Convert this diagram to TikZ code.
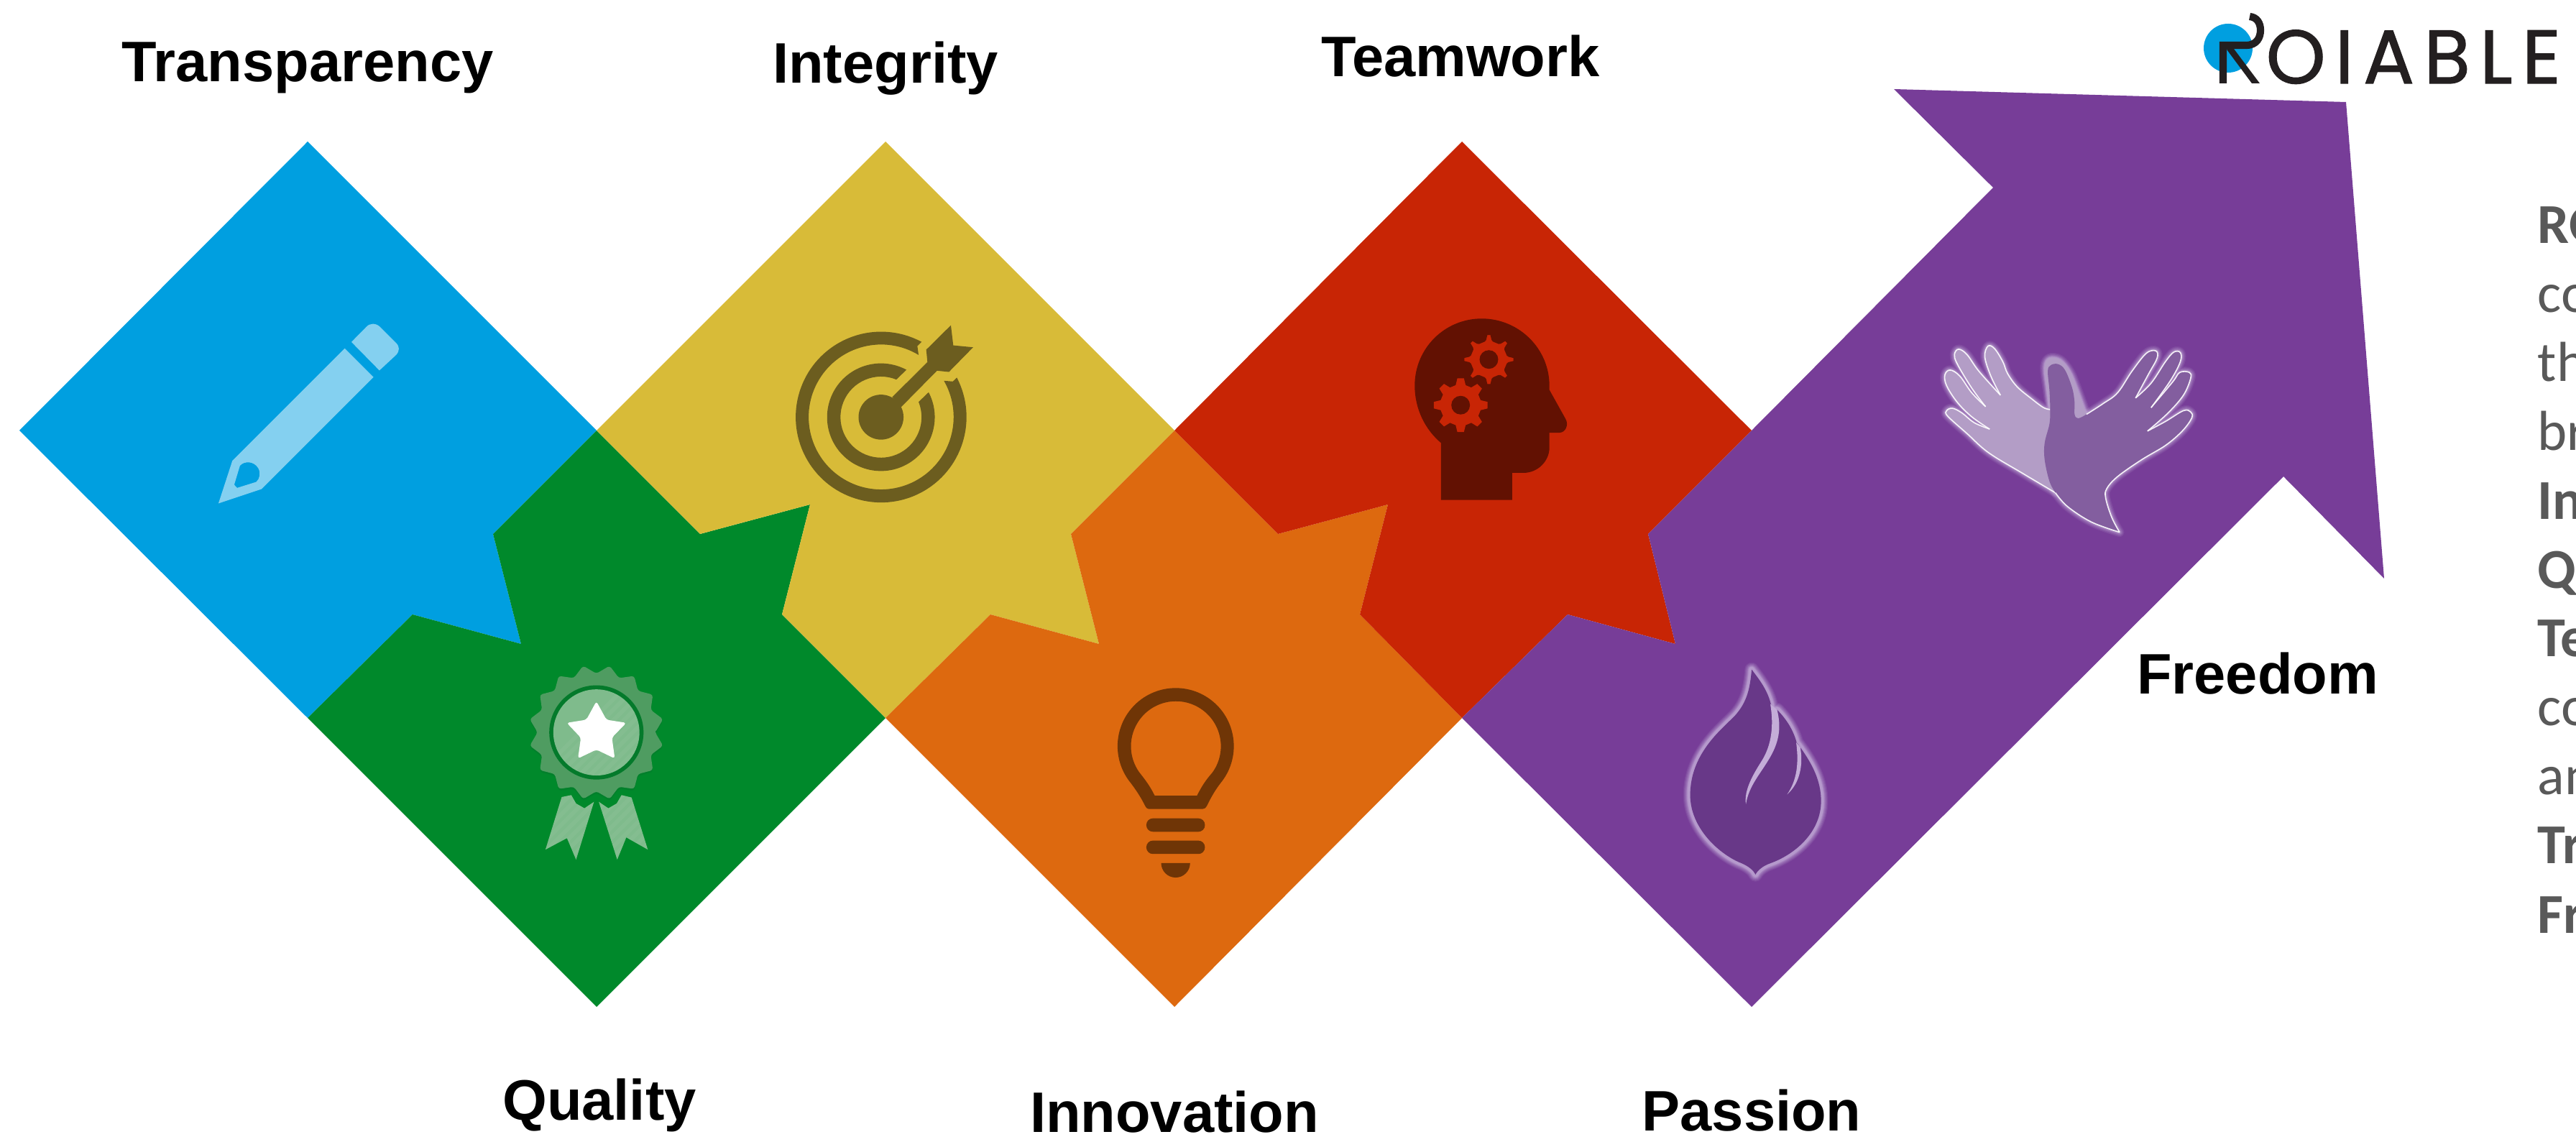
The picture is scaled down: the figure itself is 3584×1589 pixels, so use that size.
\documentclass[tikz,border=0pt]{standalone}
\usepackage{fontspec}
\setmainfont{Liberation Sans}
\newfontfamily\bodyfont{Carlito}
\newfontfamily\logofont[FakeBold=1.2,LetterSpace=12.5]{Poppins}
\definecolor{cblue}{HTML}{009FE0}
\definecolor{cgreen}{HTML}{00892B}
\definecolor{cyellow}{HTML}{D8BB38}
\definecolor{corange}{HTML}{DD690F}
\definecolor{cred}{HTML}{C82505}
\definecolor{cpurple}{HTML}{773D98}
\definecolor{ipencil}{HTML}{84D0F0}
\definecolor{itarget}{HTML}{6C5D1F}
\definecolor{ibulb}{HTML}{6F3506}
\definecolor{ihead}{HTML}{621102}
\definecolor{irose}{HTML}{4F9C61}
\definecolor{iribbon}{HTML}{7FBB8C}
\definecolor{iring}{HTML}{047A2B}
\definecolor{iflame}{HTML}{683888}
\definecolor{iglow}{HTML}{C4ADD8}
\definecolor{handlight}{HTML}{B39DC6}
\definecolor{handdark}{HTML}{835E9F}
\definecolor{bodygrey}{HTML}{595959}
\definecolor{logoink}{HTML}{231F20}
\tikzset{
  label text/.style={font=\fontsize{22.6}{26}\selectfont\bfseries,text=black,inner sep=0pt},
  body text/.style={font=\fontsize{22.3}{26}\bodyfont,text=bodygrey,anchor=base west,inner sep=0pt},
  icon/.style={x=0.0033333cm,y=-0.0033333cm},
  hand line/.style={white,line width=.45pt,opacity=.9}
}
\newcommand\glowflame[2]{\foreach \w/\o in {5.6/.1,5.0/.12,4.4/.14,3.8/.17,3.2/.22,2.7/.3,2.2/.45}{\draw[#1,line width=\w pt,opacity=\o,line join=round] #2;}}
\newcommand\glowhand[2]{\foreach \w/\o in {3.8/.1,3.1/.12,2.4/.15,1.8/.2,1.2/.28,0.7/.4}{\draw[#1,line width=\w pt,opacity=\o,line join=round] #2;}}
\newcommand\gearshape[4]{\fill[#3,#4] ([shift={(#1,#2)}]-14:86)
  \foreach \a in {0,45,...,315}{ -- ([shift={(#1,#2)}]\a-14:86) -- ([shift={(#1,#2)}]\a-7:113) -- ([shift={(#1,#2)}]\a+7:113) -- ([shift={(#1,#2)}]\a+14:86)} -- cycle;
  \fill[ihead] (#1,#2) circle[radius=39];}
\newcommand\stripes{\foreach \k in {0,44,...,1400}{\draw[white,line width=1.6pt,opacity=.045] (\k-200,1000) -- (\k+800,0);}}
\begin{document}
\begin{tikzpicture}[x=0.01cm,y=-0.01cm]
\useasboundingbox (0,0) rectangle (3584,1589);
\clip (0,0) rectangle (3584,1589);
\fill[white] (0,0) rectangle (3584,1589);
% chevrons
\fill[cblue] (428,197)--(830,599)--(686,743)--(725,896)--(574,855)--(428,999)--(27,599)--cycle;
\fill[cgreen] (830,599)--(974,743)--(1127,702)--(1088,855)--(1232,999)--(830,1401)--(428,999)--(574,855)--(725,896)--(686,743)--cycle;
\fill[cyellow] (1232,197)--(1634,599)--(1490,743)--(1529,896)--(1378,855)--(1232,999)--(1088,855)--(1127,702)--(974,743)--(830,599)--cycle;
\fill[corange] (1634,599)--(1778,743)--(1931,702)--(1892,855)--(2034,999)--(1634,1401)--(1232,999)--(1378,855)--(1529,896)--(1490,743)--cycle;
\fill[cred] (2034,197)--(2437,599)--(2293,743)--(2331,896)--(2181,855)--(2034,999)--(1892,855)--(1931,702)--(1778,743)--(1634,599)--cycle;
\fill[cpurple] (2437,599)--(2773,261)--(2635,124)--(3264,142)--(3317,805)--(3177,663)--(2437,1401)--(2034,999)--(2181,855)--(2331,896)--(2293,743)--cycle;
% pencil
\begin{scope}[shift={(250,400)},icon]
\fill[ipencil,even odd rule] (690,255)--(810,375)--(342,843)--(162,903)--(220,725)--cycle
  (252,745) .. controls (270,725) and (310,725) .. (328,755) .. controls (340,775) and (335,800) .. (320,813) -- (240,838) -- (228,825) -- cycle;
\fill[ipencil] (718,228)--(780,165) .. controls (795,148) and (820,148) .. (838,165) -- (905,232) .. controls (920,248) and (920,265) .. (905,282) -- (835,347) -- cycle;
\end{scope}
% target
\begin{scope}[shift={(1080,420)},icon]
\fill[itarget] (755,317) arc[start angle=-27.5,end angle=298.3,radius=357] -- (590,185) -- (595,222)
  arc[start angle=301.1,end angle=-30,radius=303] -- (738,333) -- cycle;
\fill[itarget] (637,378) arc[start angle=-27.6,end angle=298.3,radius=225] -- (502,325)
  arc[start angle=292.2,end angle=-22,radius=169.5] -- cycle;
\fill[itarget] (438,482) circle[radius=94];
\fill[itarget] (485,398)--(632,252)--(627,200)--(730,98)--(740,182)--(823,190)--(722,293)--(672,288)--(522,440)--cycle;
\end{scope}
% ribbon
\begin{scope}[shift={(680,880)},icon]
\begin{scope}
\clip (345,680)--(365,715)--(400,735)--(440,708)--(365,950)--(327,860)--(237,908)--(305,688)--cycle
      (555,680)--(535,715)--(500,735)--(460,708)--(537,950)--(575,857)--(665,908)--(597,690)--cycle;
\fill[iribbon] (200,650) rectangle (700,960);
\stripes
\end{scope}
\fill[iring,opacity=.55,rounded corners=1pt,shift={(0,8)}] ([shift={(450,418)}]0:246)
  \foreach \a in {11.25,33.75,...,348.75}{ -- ([shift={(450,418)}]\a:284) -- ([shift={(450,418)}]\a+11.25:246)} -- cycle;
\fill[irose,rounded corners=1pt] ([shift={(450,418)}]0:246)
  \foreach \a in {11.25,33.75,...,348.75}{ -- ([shift={(450,418)}]\a:284) -- ([shift={(450,418)}]\a+11.25:246)} -- cycle;
\fill[iring] (450,418) circle[radius=197];
\begin{scope}
\clip (450,418) circle[radius=180];
\fill[iribbon] (260,230) rectangle (640,610);
\stripes
\end{scope}
\fill[white,rounded corners=1pt] (450,288)--(492,365)--(575,378)--(515,440)--(527,527)--(450,490)--(373,527)--(385,440)--(326,378)--(408,365)--cycle;
\end{scope}
% bulb
\begin{scope}[shift={(1520,930)},icon]
\fill[ibulb,even odd rule] (235,588) -- (460,588) .. controls (470,588) and (474,582) .. (478,575)
  .. controls (495,540) and (512,510) .. (535,480) arc[start angle=39.6,end angle=-219.6,radius=243]
  .. controls (183,510) and (203,540) .. (220,575) .. controls (224,582) and (228,588) .. (235,588) -- cycle
  (260,532) -- (437,532) .. controls (455,495) and (475,465) .. (500,437) arc[start angle=36.4,end angle=-216.4,radius=188]
  .. controls (220,465) and (242,495) .. (260,532) -- cycle;
\fill[ibulb,rounded corners=2.6pt] (225,627) rectangle (470,683);
\fill[ibulb,rounded corners=2.6pt] (225,720) rectangle (470,776);
\fill[ibulb] (287,814) -- (408,814) arc[start angle=0,end angle=180,radius=60.5] -- cycle;
\end{scope}
% head
\begin{scope}[shift={(1940,420)},icon]
\fill[ihead] (195,828)--(492,828)--(492,715)--(540,715) .. controls (600,715) and (648,665) .. (648,610)
  --(648,547)--(690,547) .. controls (715,547) and (730,515) .. (716,490) --(648,368)--(648,350)
  .. controls (648,195) and (520,70) .. (365,70) .. controls (210,70) and (85,195) .. (85,350)
  .. controls (85,450) and (130,535) .. (195,590) -- cycle;
\gearshape{277}{432}{cred}{}
\begin{scope}
\draw[ihead,line width=1.8pt,fill=cred,line join=round] ([shift={(395,241)}]-14:86)
  \foreach \a in {0,45,...,315}{ -- ([shift={(395,241)}]\a-14:86) -- ([shift={(395,241)}]\a-7:113) -- ([shift={(395,241)}]\a+7:113) -- ([shift={(395,241)}]\a+14:86)} -- cycle;
\fill[ihead] (395,241) circle[radius=39];
\end{scope}
\end{scope}
% flame
\begin{scope}[shift={(2300,900)},icon]
\def\flamepath{(412,95) .. controls (405,170) and (395,230) .. (340,290)
  .. controls (280,350) and (155,450) .. (155,620)
  .. controls (155,760) and (280,870) .. (370,905)
  .. controls (400,918) and (420,935) .. (428,952)
  .. controls (436,935) and (460,915) .. (490,905)
  .. controls (600,865) and (702,770) .. (702,645)
  .. controls (702,560) and (665,490) .. (615,420)
  -- (600,400) .. controls (585,345) and (555,300) .. (518,263) -- (497,262)
  .. controls (485,190) and (450,145) .. cycle}
\glowflame{iglow}{\flamepath}
\fill[iflame] \flamepath;
\fill[iglow] (518,263) .. controls (535,330) and (530,390) .. (490,460) .. controls (450,530) and (400,580) .. (388,658)
  .. controls (378,600) and (420,530) .. (455,475) .. controls (495,410) and (505,330) .. (490,240) -- cycle;
\fill[iglow] (615,420) .. controls (628,490) and (615,570) .. (560,617) .. controls (600,560) and (610,490) .. (598,400) -- cycle;
\end{scope}
% hands
\begin{scope}[shift={(2680,460)},icon]
\def\lefthand{plot[smooth,tension=.6] coordinates {(540,678)(400,595)(260,510)(170,430)(90,358)(85,335)(110,325)(150,345)(200,385)(265,412)}
  -- plot[smooth,tension=.6] coordinates {(265,412)(190,360)(130,300)(85,230)(78,185)(100,165)(140,190)(190,260)(248,318)}
  -- plot[smooth,tension=.6] coordinates {(248,318)(190,240)(130,140)(118,100)(135,78)(170,100)(220,170)(310,270)}
  -- plot[smooth,tension=.6] coordinates {(310,270)(270,190)(245,110)(258,65)(285,75)(320,130)(340,180)(380,235)(440,285)(490,322)(518,330)}
  -- plot[smooth,tension=.6] coordinates {(518,330)(505,240)(495,150)(515,115)(560,122)(600,170)(630,240)(670,350)}
  -- (600,500) -- cycle}
\def\righthand{plot[smooth,tension=.6] coordinates {(540,678)(515,630)(495,540)(495,470)(515,390)(518,330)(515,250)(508,170)(520,145)(550,140)(580,165)(610,240)(620,300)(620,350)(635,367)(670,350)}
  -- plot[smooth,tension=.6] coordinates {(670,350)(740,305)(800,260)(860,170)(920,95)(960,85)(965,115)(930,180)(875,282)}
  -- plot[smooth,tension=.6] coordinates {(875,282)(940,220)(1000,130)(1035,90)(1062,92)(1062,130)(1020,210)(940,322)}
  -- plot[smooth,tension=.6] coordinates {(940,322)(1030,215)(1060,175)(1100,175)(1105,200)(1075,270)(1010,345)(925,420)}
  -- plot[smooth,tension=.6] coordinates {(925,420)(1000,380)(1075,335)(1105,340)(1110,365)(1070,420)(1000,480)(900,540)(800,610)(755,660)(750,700)(775,780)(808,843)}
  -- plot[smooth,tension=.6] coordinates {(808,843)(690,800)(590,735)(540,678)}}
\glowhand{iglow}{\lefthand}
\glowhand{iglow}{\righthand}
\fill[handlight] \lefthand;
\draw[hand line] plot[smooth,tension=.6] coordinates {(540,678)(400,595)(260,510)(170,430)(90,358)(85,335)(110,325)(150,345)(200,385)(265,412)};
\draw[hand line] plot[smooth,tension=.6] coordinates {(265,412)(190,360)(130,300)(85,230)(78,185)(100,165)(140,190)(190,260)(248,318)};
\draw[hand line] plot[smooth,tension=.6] coordinates {(248,318)(190,240)(130,140)(118,100)(135,78)(170,100)(220,170)(310,270)};
\draw[hand line] plot[smooth,tension=.6] coordinates {(310,270)(270,190)(245,110)(258,65)(285,75)(320,130)(340,180)(380,235)(440,285)(490,322)(518,330)};
\fill[handdark] \righthand;
\draw[hand line] plot[smooth,tension=.6] coordinates {(670,350)(740,305)(800,260)(860,170)(920,95)(960,85)(965,115)(930,180)(875,282)};
\draw[hand line] plot[smooth,tension=.6] coordinates {(875,282)(940,220)(1000,130)(1035,90)(1062,92)(1062,130)(1020,210)(940,322)};
\draw[hand line] plot[smooth,tension=.6] coordinates {(940,322)(1030,215)(1060,175)(1100,175)(1105,200)(1075,270)(1010,345)(925,420)};
\draw[hand line] plot[smooth,tension=.6] coordinates {(925,420)(1000,380)(1075,335)(1105,340)(1110,365)(1070,420)(1000,480)(900,540)(800,610)(755,660)(750,700)(775,780)(808,843)};
\draw[hand line] plot[smooth,tension=.6] coordinates {(808,843)(690,800)(590,735)(540,678)};
\end{scope}
% logo
\fill[cblue] (3100,67) circle[radius=34];
\draw[logoink,line width=2.9pt,line join=miter] (3093,116) -- (3093,63) -- (3125,63) .. controls (3140,63) and (3145,52) .. (3145,42) .. controls (3145,32) and (3140,24) .. (3130,23);
\fill[logoink] (3097.6,68.3) -- (3133,116) -- (3144,116) -- (3108,68) -- cycle;
\node[font=\fontsize{30}{30}\logofont,text=logoink,anchor=base west,inner sep=0pt] (brand) at (3152,116) {OIABLE};
% labels
\node[label text] (transparency) at (428,94) {Transparency};
\node[label text] (integrity) at (1232,95) {Integrity};
\node[label text] (teamwork) at (2032,78) {Teamwork};
\node[label text] (quality) at (834,1538) {Quality};
\node[label text] (innovation) at (1634,1547) {Innovation};
\node[label text] (passion) at (2437,1545) {Passion};
\node[label text] (freedom) at (3141,937) {Freedom};
% clipped body text
\node[body text] (b1) at (3530,339) {\bfseries RO};
\node[body text] (b2) at (3530,435) {co};
\node[body text] (b3) at (3530,531) {th};
\node[body text] (b4) at (3530,627) {br};
\node[body text] (b5) at (3530,723) {\bfseries In};
\node[body text] (b6) at (3530,819) {\bfseries Q};
\node[body text] (b7) at (3530,914) {\bfseries Te};
\node[body text] (b8) at (3530,1010) {co};
\node[body text] (b9) at (3530,1106) {an};
\node[body text] (b10) at (3530,1202) {\bfseries Tr};
\node[body text] (b11) at (3530,1298) {\bfseries Fr};
\end{tikzpicture}
\end{document}
